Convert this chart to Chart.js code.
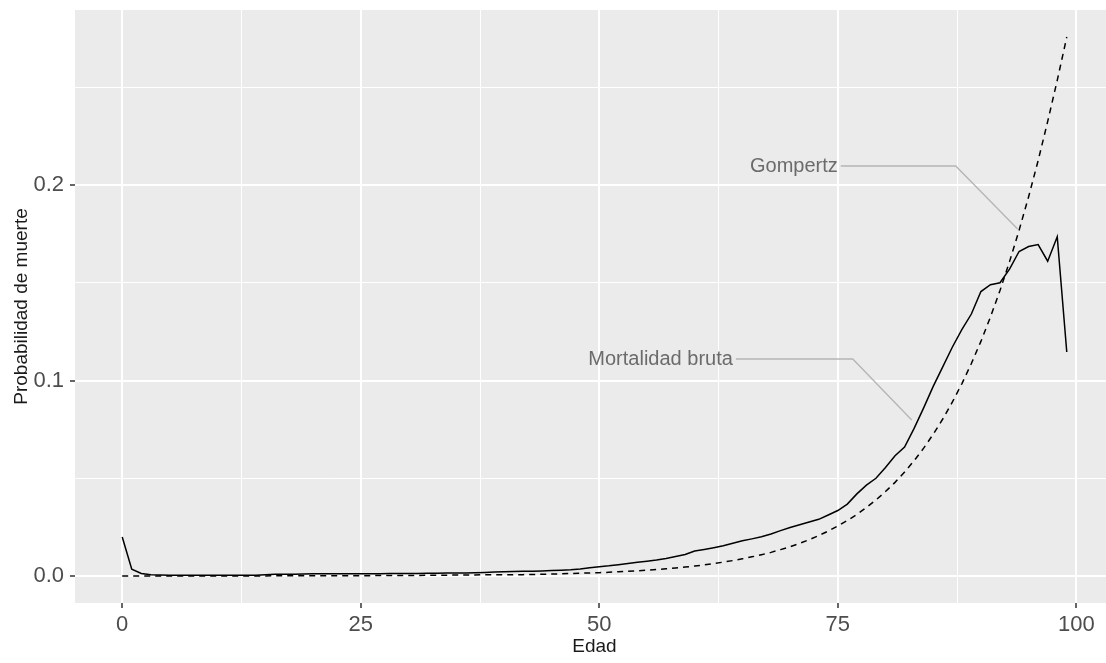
<!DOCTYPE html>
<html lang="es">
<head>
<meta charset="UTF-8">
<title>Probabilidad de muerte por edad</title>
<script src="https://cdn.jsdelivr.net/npm/chart.js"></script>
<style>
    html, body {
        margin: 0;
        padding: 0;
        background: #ffffff;
        overflow: hidden;
    }
    canvas {
        display: block;
    }
</style>
</head>
<body>
<canvas id="mortalidad" width="1114" height="663"></canvas>
<script>
    // edades 0..99
    const edades = Array.from({ length: 100 }, (_, i) => i);

    // tasa bruta observada
    const mortalidadBruta = [
        0.0200, 0.0035, 0.0013, 0.0007, 0.0005, 0.0004, 0.0004, 0.0004, 0.0004, 0.0004,
        0.0004, 0.0004, 0.0004, 0.0004, 0.0004, 0.0006, 0.0009, 0.0009, 0.0009, 0.0010,
        0.0012, 0.0012, 0.0012, 0.0012, 0.0012, 0.0012, 0.0012, 0.0012, 0.0013, 0.0013,
        0.0013, 0.0013, 0.0014, 0.0014, 0.0015, 0.0016, 0.0016, 0.0017, 0.0018, 0.0020,
        0.0022, 0.0023, 0.0024, 0.0025, 0.0026, 0.0028, 0.0030, 0.0032, 0.0036, 0.0042,
        0.0048, 0.0052, 0.0058, 0.0064, 0.0070, 0.0076, 0.0082, 0.0090, 0.0100, 0.0110,
        0.0128, 0.0136, 0.0145, 0.0155, 0.0168, 0.0180, 0.0190, 0.0201, 0.0215, 0.0232,
        0.0248, 0.0262, 0.0276, 0.0290, 0.0312, 0.0335, 0.0368, 0.0420, 0.0465, 0.0500,
        0.0555, 0.0615, 0.0660, 0.0755, 0.0860, 0.0970, 0.1070, 0.1170, 0.1260, 0.1340,
        0.1455, 0.1490, 0.1500, 0.1570, 0.1660, 0.1685, 0.1695, 0.1610, 0.1735, 0.1146
    ];

    // ajuste de Gompertz
    const gompertz = [
        0.00001, 0.00001, 0.00002, 0.00002, 0.00002, 0.00002, 0.00003, 0.00003, 0.00003, 0.00004,
        0.00004, 0.00005, 0.00005, 0.00006, 0.00006, 0.00007, 0.00008, 0.00008, 0.00009, 0.00010,
        0.00011, 0.00012, 0.00014, 0.00015, 0.00017, 0.00018, 0.00020, 0.00022, 0.00024, 0.00027,
        0.00029, 0.00032, 0.00036, 0.00040, 0.00044, 0.00048, 0.00053, 0.00058, 0.00064, 0.00070,
        0.00060, 0.00070, 0.00070, 0.00080, 0.00090, 0.00100, 0.00110, 0.00130, 0.00140, 0.00160,
        0.0017, 0.0019, 0.0022, 0.0024, 0.0027, 0.0030, 0.0033, 0.0037, 0.0041, 0.0046,
        0.0051, 0.0057, 0.0064, 0.0071, 0.0079, 0.0088, 0.0098, 0.0109, 0.0121, 0.0135,
        0.0150, 0.0167, 0.0186, 0.0207, 0.0230, 0.0256, 0.0284, 0.0315, 0.0350, 0.0389,
        0.0432, 0.0479, 0.0532, 0.0590, 0.0654, 0.0725, 0.0803, 0.0889, 0.0983, 0.1087,
        0.1200, 0.1325, 0.1460, 0.1608, 0.1768, 0.1940, 0.2125, 0.2325, 0.2535, 0.2757
    ];

    const ticksEdad = [0, 12.5, 25, 37.5, 50, 62.5, 75, 87.5, 100];
    const etiquetasEdad = [0, 25, 50, 75, 100];
    const ticksProb = [0, 0.05, 0.1, 0.15, 0.2, 0.25];
    const etiquetasProb = [0, 0.1, 0.2];

    // etiquetas con linea guia: texto, punto del texto, codo y destino (en unidades de datos)
    const rotulos = [
        { texto: 'Gompertz', texto_x: 75.0, texto_y: 0.2097, codo_x: 87.36, fin_x: 93.85, fin_y: 0.1775 },
        { texto: 'Mortalidad bruta', texto_x: 64.0, texto_y: 0.1110, codo_x: 76.57, fin_x: 82.75, fin_y: 0.0798 }
    ];

    const fuente = '"Liberation Sans", Arial, sans-serif';
    const esMayor = (v, lista) => lista.some(m => Math.abs(m - v) < 1e-9);

    // fondo gris del panel
    const fondoPanel = {
        id: 'fondoPanel',
        beforeDraw(chart) {
            const { ctx, chartArea: a } = chart;
            ctx.save();
            ctx.fillStyle = '#ebebeb';
            ctx.fillRect(a.left, a.top, a.right - a.left, a.bottom - a.top);
            ctx.restore();
        }
    };

    const lineasGuia = {
        id: 'lineasGuia',
        afterDatasetsDraw(chart) {
            const { ctx, scales: { x, y } } = chart;
            ctx.save();
            rotulos.forEach(r => {
                const ty = y.getPixelForValue(r.texto_y);
                const tx = x.getPixelForValue(r.texto_x);
                ctx.strokeStyle = '#b5b5b5';
                ctx.lineWidth = 1.3;
                ctx.beginPath();
                ctx.moveTo(tx + 3, ty);
                ctx.lineTo(x.getPixelForValue(r.codo_x), ty);
                ctx.lineTo(x.getPixelForValue(r.fin_x), y.getPixelForValue(r.fin_y));
                ctx.stroke();
                ctx.fillStyle = '#6b6b6b';
                ctx.font = '20px ' + fuente;
                ctx.textAlign = 'right';
                ctx.textBaseline = 'middle';
                ctx.fillText(r.texto, tx, ty);
            });
            ctx.restore();
        }
    };

    const ctx = document.getElementById('mortalidad').getContext('2d');
    new Chart(ctx, {
        type: 'line',
        data: {
            datasets: [
                {
                    label: 'Gompertz',
                    data: edades.map((e, i) => ({ x: e, y: gompertz[i] })),
                    borderColor: '#000000',
                    borderWidth: 1.5,
                    borderDash: [6, 5],
                    pointRadius: 0,
                    tension: 0,
                    fill: false
                },
                {
                    label: 'Mortalidad bruta',
                    data: edades.map((e, i) => ({ x: e, y: mortalidadBruta[i] })),
                    borderColor: '#000000',
                    borderWidth: 1.5,
                    pointRadius: 0,
                    tension: 0,
                    fill: false
                }
            ]
        },
        options: {
            responsive: false,
            animation: false,
            devicePixelRatio: 1,
            layout: { padding: { top: 10, left: 0, right: 0, bottom: 0 } },
            plugins: {
                legend: { display: false },
                tooltip: { enabled: false }
            },
            scales: {
                x: {
                    type: 'linear',
                    min: -4.95,
                    max: 103.95,
                    afterBuildTicks: s => { s.ticks = ticksEdad.map(v => ({ value: v })); },
                    afterFit: s => { s.height = 60; s.paddingLeft = 0; s.paddingRight = 0; },
                    border: { display: false },
                    grid: {
                        color: '#ffffff',
                        lineWidth: c => esMayor(c.tick.value, etiquetasEdad) ? 2 : 1,
                        tickColor: c => esMayor(c.tick.value, etiquetasEdad) ? '#333333' : 'rgba(0,0,0,0)',
                        tickWidth: 1.5,
                        tickLength: 5
                    },
                    ticks: {
                        autoSkip: false,
                        maxRotation: 0,
                        padding: 4,
                        color: '#4d4d4d',
                        font: { family: fuente, size: 22 },
                        callback: v => esMayor(v, etiquetasEdad) ? String(v) : ''
                    },
                    title: {
                        display: true,
                        text: 'Edad',
                        color: '#1a1a1a',
                        font: { family: fuente, size: 19 },
                        padding: { top: 0, bottom: 5 }
                    }
                },
                y: {
                    type: 'linear',
                    min: -0.0138,
                    max: 0.2895,
                    afterBuildTicks: s => { s.ticks = ticksProb.map(v => ({ value: v })); },
                    afterFit: s => { s.width = 75; s.paddingTop = 0; s.paddingBottom = 0; },
                    border: { display: false },
                    grid: {
                        color: '#ffffff',
                        lineWidth: c => esMayor(c.tick.value, etiquetasProb) ? 2 : 1,
                        tickColor: c => esMayor(c.tick.value, etiquetasProb) ? '#333333' : 'rgba(0,0,0,0)',
                        tickWidth: 1.5,
                        tickLength: 5
                    },
                    ticks: {
                        autoSkip: false,
                        padding: 6,
                        color: '#4d4d4d',
                        font: { family: fuente, size: 22 },
                        callback: v => esMayor(v, etiquetasProb) ? v.toFixed(1) : ''
                    },
                    title: {
                        display: true,
                        text: 'Probabilidad de muerte',
                        color: '#1a1a1a',
                        font: { family: fuente, size: 19 },
                        padding: { top: 10, bottom: 0 }
                    }
                }
            }
        },
        plugins: [fondoPanel, lineasGuia]
    });
</script>
</body>
</html>
